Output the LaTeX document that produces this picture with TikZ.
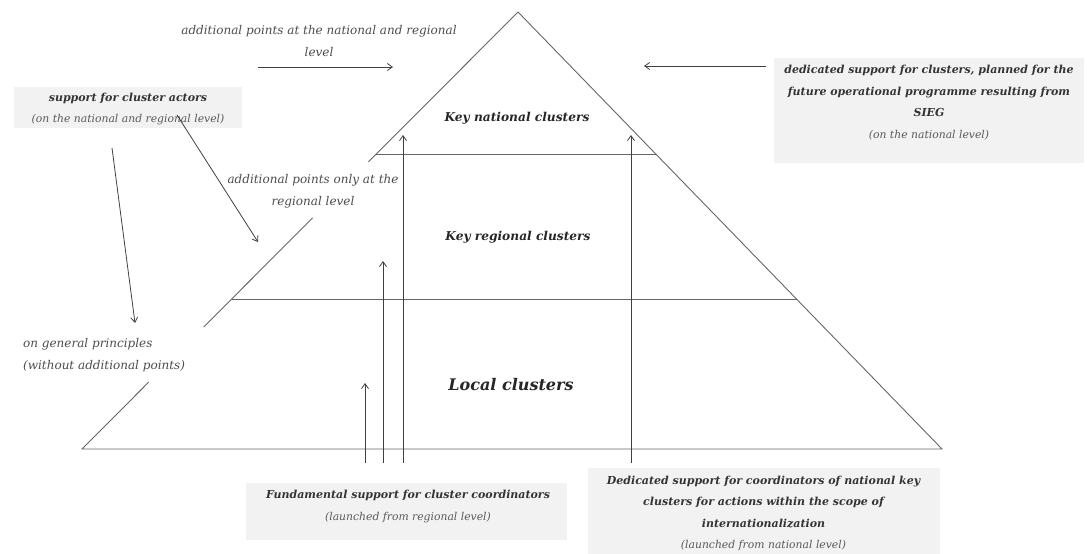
\documentclass[tikz,border=0pt]{standalone}
\usepackage{fontspec}
\setmainfont{DejaVu Serif}
\usetikzlibrary{arrows.meta,calc}

\begin{document}
\begin{tikzpicture}[x=1pt,y=-1pt,
    edge/.style={draw=black!60,line width=0.9pt},
    arr/.style={-{Straight Barb[length=5pt,width=7pt]},draw=black!75,line width=0.8pt},
    note/.style={font=\itshape\fontsize{12}{22}\selectfont,text=black!70,align=center,inner sep=0pt},
    level/.style={font=\bfseries\itshape\fontsize{12.2}{14}\selectfont,text=black!85,inner sep=0pt},
    infobox/.style={fill=black!5,inner sep=0pt},
    boxtext/.style={align=center,inner sep=0pt,text=black!80,
                    font=\bfseries\itshape\fontsize{11}{21.5}\selectfont},
  ]
  \newcommand{\sub}[1]{{\mdseries\color{black!65}\fontsize{10.8}{21.5}\selectfont #1}}
  \useasboundingbox (0,0) rectangle (1087,554);

  % ---------------------------------------------------------------- boxes
  \node[infobox,minimum width=228,minimum height=41] (actors) at (128,107.5) {};
  \node[infobox,minimum width=310,minimum height=105] (sieg) at (929,110.5) {};
  \node[infobox,minimum width=321,minimum height=57] (fund) at (406.5,511.5) {};
  \node[infobox,minimum width=352,minimum height=90,anchor=north] (intl) at (764,468) {};

  \node[boxtext] (actorstext) at (128,109)
    {support for cluster actors\\\sub{(on the national and regional level)}};
  \node[boxtext] (siegtext) at (929,102.5)
    {dedicated support for clusters, planned for the\\future operational programme resulting from\\SIEG\\\sub{(on the national level)}};
  \node[boxtext] (fundtext) at (408,506.5)
    {Fundamental support for cluster coordinators\\\sub{(launched from regional level)}};
  \node[boxtext] (intltext) at (763.5,513.5)
    {Dedicated support for coordinators of national key\\clusters for actions within the scope of\\internationalization\\\sub{(launched from national level)}};

  % ---------------------------------------------------------------- pyramid
  \coordinate (apex) at (518,12);
  \coordinate (bl) at (82,449);
  \coordinate (br) at (942,449);
  \draw[edge] ($(apex)!0.343!(bl)$) -- (apex) -- (br) -- (bl) -- ($(apex)!0.847!(bl)$);
  \draw[edge] ($(apex)!0.471!(bl)$) -- ($(apex)!0.721!(bl)$);
  % level borders
  \draw[edge] ($(apex)!0.327!(bl)$) -- ($(apex)!0.327!(br)$);
  \draw[edge] ($(apex)!0.657!(bl)$) -- ($(apex)!0.657!(br)$);

  \node[level] (national) at (517,118) {Key national clusters};
  \node[level] (regional) at (518,237) {Key regional clusters};
  \node[level,font=\bfseries\itshape\fontsize{16}{18}\selectfont] (local) at (511,385) {Local clusters};

  % ---------------------------------------------------------------- notes
  \node[note] (both) at (319,41) {additional points at the national and regional\\level};
  \node[note] (onlyreg) at (313,191) {additional points only at the\\regional level};
  \node[note,align=left,anchor=west] (general) at (23,355.5) {on general principles\\(without additional points)};

  % ---------------------------------------------------------------- arrows
  \coordinate (t1) at (258,67);  \coordinate (h1) at (393,67);
  \coordinate (t2) at (766,66);  \coordinate (h2) at (644,66);
  \coordinate (t3) at (112,148); \coordinate (h3) at (135,323);
  \coordinate (t4) at (177,115); \coordinate (h4) at (258,242);
  \foreach \i in {1,...,4}
    \draw[arr] (t\i) -- (h\i);

  % upward support arrows
  \foreach \n/\x/\top in {a/365/383, b/383/261, c/403/135, d/631/135} {
    \coordinate (s\n) at (\x,463);
    \coordinate (e\n) at (\x,\top);
    \draw[arr] (s\n) -- (e\n);
  }
\end{tikzpicture}
\end{document}
